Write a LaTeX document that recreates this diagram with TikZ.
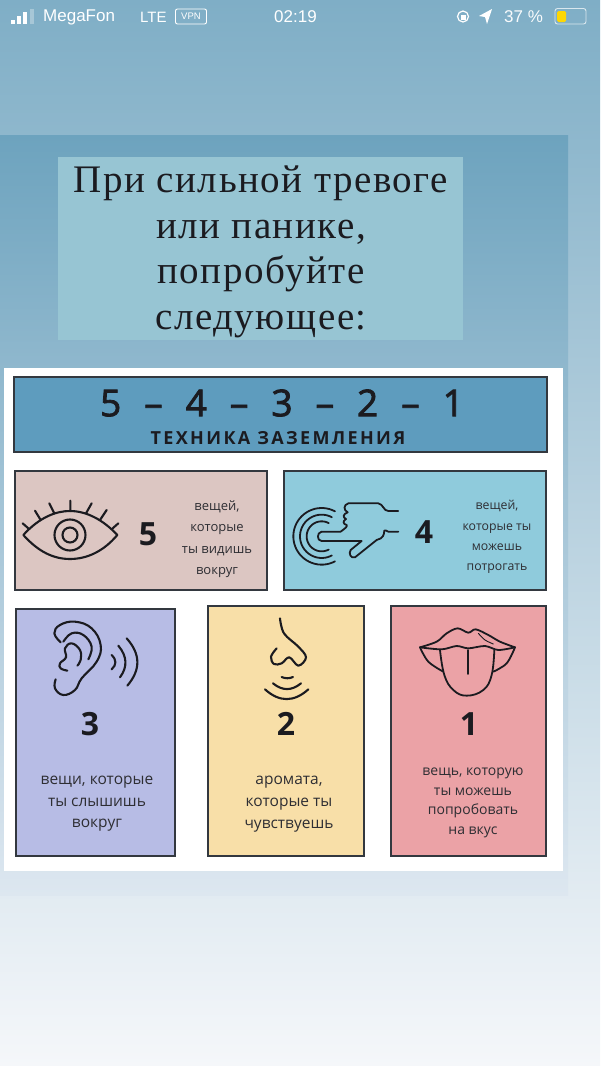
\documentclass[tikz,border=0pt]{standalone}
\usepackage{fontspec}
\setmainfont{Open Sans}
\newfontfamily\titlefont[LetterSpace=4]{Liberation Serif}
\newfontfamily\statusfont{Liberation Sans}
\definecolor{bgtop}{HTML}{7FAEC6}
\definecolor{bgbot}{HTML}{F5F7FA}
\definecolor{paneltop}{HTML}{6DA3BE}
\definecolor{panelbot}{HTML}{DDE7F0}
\definecolor{titlebox}{HTML}{97C5D3}
\definecolor{headbox}{HTML}{5E9CBE}
\definecolor{pinkbox}{HTML}{DCC6C2}
\definecolor{cyanbox}{HTML}{8FCBDC}
\definecolor{lavbox}{HTML}{B7BCE5}
\definecolor{yelbox}{HTML}{F8DFA8}
\definecolor{redbox}{HTML}{EBA2A6}
\definecolor{ink}{HTML}{1B1B20}
\definecolor{boxline}{HTML}{33383F}
\definecolor{txt}{HTML}{2E2E33}
\newcommand{\heavier}[1]{\special{pdf:code 2 Tr 0.8 w}#1\special{pdf:code 0 Tr 1 w}}
\tikzset{
  x=1pt,y=-1pt,
  card/.style={draw=boxline,line width=1.4pt},
  icon/.style={draw=ink,line width=2.1pt,line cap=round,line join=round},
  desc/.style={text=txt,align=center,inner sep=0pt},
  num/.style={text=ink,font=\bfseries\fontsize{32}{32}\selectfont,inner sep=0pt},
  stat/.style={text=white,inner sep=0pt,anchor=west},
  zoomed/.style={x=.3333pt,y=-.3333pt}
}
\begin{document}
\begin{tikzpicture}
\useasboundingbox (0,0) rectangle (600,1066);
% background
\shade[top color=bgtop,bottom color=bgbot] (0,0) rectangle (600,1066);
\shade[top color=paneltop,bottom color=panelbot] (0,135) rectangle (568,895);
\fill[titlebox] (58,157) rectangle (463,340);
\fill[white] (4,368) rectangle (563,871);
% status bar
\fill[white] (11,19.5) rectangle (14.5,23.5);
\fill[white] (17,16) rectangle (20.5,23.5);
\fill[white] (23,11.5) rectangle (26.5,23.5);
\fill[white,opacity=.3] (30,8.5) rectangle (33.5,23.5);
\node[stat,font=\statusfont\fontsize{17}{17}\selectfont] (carrier) at (43,17) {MegaFon};
\node[stat,font=\statusfont\fontsize{15}{15}\selectfont] (lte) at (140,17) {LTE};
\node[draw=white,line width=.9pt,rounded corners=2pt,text=white,font=\statusfont\fontsize{9.5}{9.5}\selectfont,minimum width=31pt,minimum height=15pt,inner sep=0pt] (vpn) at (191,16.5) {VPN};
\node[stat,font=\statusfont\fontsize{17}{17}\selectfont] (clock) at (274,17) {02:19};
\draw[white,line width=1.2pt] (463,16.5) circle[radius=5.5pt];
\fill[white] (460.5,15) rectangle (465.5,20);
\fill[white] (492,9) -- (479,16) -- (485,17) -- (487,24) -- cycle;
\node[stat,font=\statusfont\fontsize{17}{17}\selectfont,opacity=.95] (pct) at (504,17) {37 \%};
\draw[white,opacity=.7,line width=.9pt,rounded corners=2.5pt] (555,8.5) rectangle (586,24);
\fill[yellow!75!orange,rounded corners=1.5pt] (557,11) rectangle (566,22);
% title
\node[text=ink,font=\titlefont\fontsize{39}{45.5}\selectfont,align=center,inner sep=0pt] (title) at (261,252) {При сильной тревоге\\или панике,\\попробуйте\\следующее:};
% header
\draw[fill=headbox,card] (14,377) rectangle (547,452);
\node[text=ink,font=\fontsize{37}{37}\selectfont,inner sep=0pt] (numbers) at (282,403) {\heavier{5\hspace{23pt}–\hspace{23pt}4\hspace{23pt}–\hspace{23pt}3\hspace{23pt}–\hspace{23pt}2\hspace{23pt}–\hspace{23pt}1}};
\node[text=ink,font=\bfseries\fontsize{18}{18}\selectfont\addfontfeature{LetterSpace=13},inner sep=0pt] (subtitle) at (278,438) {ТЕХНИКА ЗАЗЕМЛЕНИЯ};
% cards
\draw[fill=pinkbox,card] (15,471) rectangle (267,590);
\draw[fill=cyanbox,card] (284,471) rectangle (546,590);
\draw[fill=lavbox,card] (16,609) rectangle (175,856);
\draw[fill=yelbox,card] (208,606) rectangle (364,856);
\draw[fill=redbox,card] (391,606) rectangle (546,856);
% card texts
\node[num] (n5) at (148,534) {5};
\node[desc,font=\fontsize{13}{21.3}\selectfont] (t5) at (217,539) {вещей,\\которые\\ты видишь\\вокруг};
\node[num] (n4) at (424,532) {4};
\node[desc,font=\fontsize{12.3}{20.3}\selectfont] (t4) at (497,537) {вещей,\\которые ты\\можешь\\потрогать};
\node[num] (n3) at (90,724) {3};
\node[desc,font=\fontsize{15.5}{21.5}\selectfont] (t3) at (97,804) {вещи, которые\\ты слышишь\\вокруг};
\node[num] (n2) at (286,724) {2};
\node[desc,font=\fontsize{15.5}{22}\selectfont] (t2) at (289,804) {аромата,\\которые ты\\чувствуешь};
\node[num] (n1) at (469,724) {1};
\node[desc,font=\fontsize{14}{19.5}\selectfont] (t1) at (473,803) {вещь, которую\\ты можешь\\попробовать\\на вкус};
% eye
\begin{scope}[shift={(0,460)},zoomed]
\draw[icon] (70,225) .. controls (120,170) and (170,153) .. (210,153) .. controls (260,153) and (310,180) .. (352,225) .. controls (310,275) and (260,297) .. (210,297) .. controls (160,297) and (115,275) .. (70,225) -- cycle;
\draw[icon] (210,225) circle[radius=15.5pt];
\draw[icon] (210,225) circle[radius=7.5pt];
\draw[icon] (85,205) -- (68,190) (122,180) -- (105,152) (163,160) -- (148,130) (211,153) -- (211,122) (258,160) -- (275,130) (300,180) -- (320,150) (338,205) -- (355,190);
\end{scope}
% hand
\begin{scope}[shift={(280,460)},zoomed]
\foreach \r in {85,65,45}
  \draw[icon,line width=1.8pt] plot[domain=62:298,samples=40] ({125+\r*cos(\x)},{229+\r*sin(\x)});
\draw[icon,line width=1.8pt] (125,215) -- (182,215) .. controls (195,205) and (203,200) .. (200,195) .. controls (188,192) and (188,183) .. (198,177) .. controls (188,172) and (188,163) .. (203,157) .. controls (190,150) and (190,135) .. (205,130) -- (295,130) .. controls (310,132) and (310,153) .. (325,153) -- (355,153);
\draw[icon,line width=1.8pt] (125,215) .. controls (110,217) and (110,243) .. (125,243) -- (245,243) -- (212,270) .. controls (205,280) and (212,296) .. (225,292) -- (290,240) .. controls (310,235) and (312,225) .. (313,212) .. controls (314,206) and (318,215) .. (325,215) -- (355,215);
\end{scope}
% ear
\begin{scope}[shift={(10,600)},zoomed]
\draw[icon] plot[smooth,tension=.7] coordinates {(152,127) (133,100) (150,75) (195,65) (245,85) (272,135) (260,185) (215,235) (195,270) (160,285) (135,265) (137,238)};
\draw[icon] plot[smooth,tension=.7] coordinates {(160,125) (185,100) (220,105) (245,140) (235,178)};
\draw[icon] plot[smooth,tension=.7] coordinates {(172,212) (152,205) (150,190) (168,172) (165,145) (185,130) (210,150) (212,180) (202,197)};
\draw[icon] (305,165) .. controls (320,180) and (320,194) .. (305,208);
\draw[icon] (325,137) .. controls (352,169) and (353,201) .. (330,232);
\draw[icon] (350,115) .. controls (392,162) and (393,209) .. (352,257);
\end{scope}
% nose
\begin{scope}[shift={(200,600)},zoomed]
\draw[icon] plot[smooth,tension=.6] coordinates {(240,55) (252,100) (295,140) (318,172) (295,197) (268,172) (245,190) (222,192) (213,170) (230,145)};
\draw[icon] (245,231) .. controls (256,236) and (268,236) .. (279,231);
\draw[icon] (219,250) .. controls (247,273) and (275,273) .. (303,250);
\draw[icon] (195,268) .. controls (238,307) and (282,307) .. (325,268);
\end{scope}
% lips
\begin{scope}[shift={(385,600)},zoomed]
\draw[icon,line width=1.8pt] plot[smooth,tension=.55] coordinates {(105,142) (155,125) (185,100) (218,85) (250,98) (272,88) (310,105) (345,125) (390,142)};
\draw[icon,line width=1.8pt] plot[smooth,tension=.5] coordinates {(105,142) (170,148) (215,138) (250,145) (300,138) (340,150) (390,142)};
\draw[icon,line width=1.8pt] plot[smooth,tension=.7] coordinates {(165,150) (178,225) (205,270) (245,287) (295,270) (320,225) (328,150)};
\draw[icon,line width=1.8pt] (248,150) -- (248,222);
\draw[icon,line width=1.8pt] plot[smooth,tension=.6] coordinates {(105,142) (130,185) (175,215)};
\draw[icon,line width=1.8pt] plot[smooth,tension=.6] coordinates {(390,142) (365,190) (325,215)};
\draw[icon,line width=.9pt] plot[smooth] coordinates {(280,100) (300,120) (325,132)};
\end{scope}
\end{tikzpicture}
\end{document}
